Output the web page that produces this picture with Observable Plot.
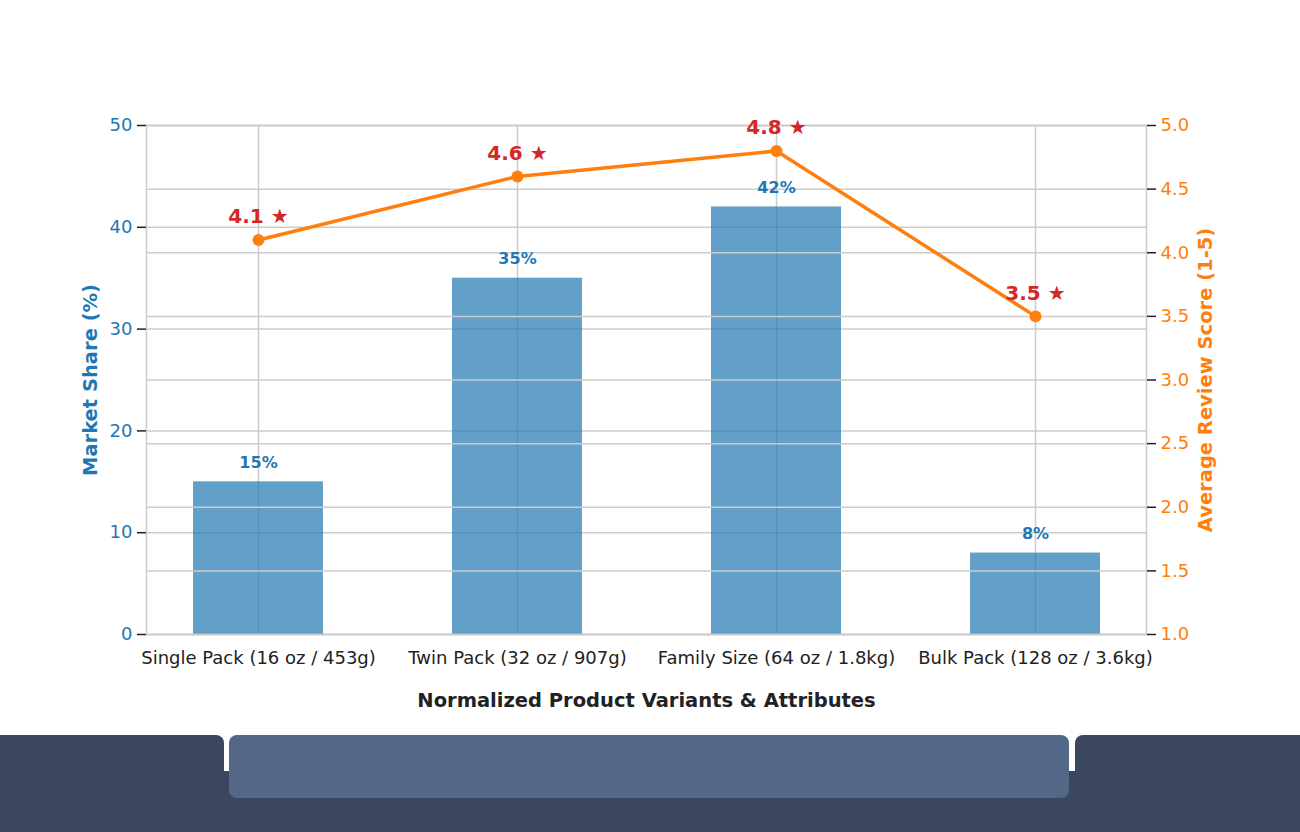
<!DOCTYPE html>
<html>
<head>
<meta charset="utf-8">
<script src="https://cdn.jsdelivr.net/npm/d3@7"></script>
<script src="https://cdn.jsdelivr.net/npm/@observablehq/plot@0.6"></script>
<style>
  html, body { margin: 0; padding: 0; background: #ffffff; width: 1300px; height: 832px; overflow: hidden; position: relative; font-family: "DejaVu Sans", sans-serif; }
  #chart { position: absolute; left: 0; top: 0; }
  .band { position: absolute; background: #3b475e; }
  .mid { position: absolute; background: #536887; border-radius: 8px; }
</style>
</head>
<body>
<div id="chart"></div>
<div class="band" style="left:0; top:771px; width:1300px; height:61px;"></div>
<div class="band" style="left:0; top:735px; width:224px; height:97px; border-top-right-radius:8px;"></div>
<div class="band" style="left:1075px; top:735px; width:225px; height:97px; border-top-left-radius:8px;"></div>
<div class="mid" style="left:229px; top:735px; width:840px; height:63px;"></div>
<script>
const categories = ["Single Pack (16 oz / 453g)", "Twin Pack (32 oz / 907g)", "Family Size (64 oz / 1.8kg)", "Bulk Pack (128 oz / 3.6kg)"];
const marketShare = [15, 35, 42, 8];
const reviewScore = [4.1, 4.6, 4.8, 3.5];
const shareTicks = [0, 10, 20, 30, 40, 50];
const scoreTicks = [1.0, 1.5, 2.0, 2.5, 3.0, 3.5, 4.0, 4.5, 5.0];
const scoreTickLabels = ["1.0", "1.5", "2.0", "2.5", "3.0", "3.5", "4.0", "4.5", "5.0"];
const xTitle = "Normalized Product Variants & Attributes";
const yLeftTitle = "Market Share (%)";
const yRightTitle = "Average Review Score (1-5)";

const BLUE = "#1f77b4", ORANGE = "#ff7f0e", RED = "#d62728", GRID = "#cccccc";
// map the right (score) axis domain [1,5] onto the left (share) axis domain [0,50]
const toLeft = s => (s - 1) / 4 * 50;

const data = categories.map((c, i) => ({cat: c, share: marketShare[i], score: reviewScore[i]}));

const chart = Plot.plot({
  width: 1300,
  height: 735,
  marginTop: 125,
  marginBottom: 101,
  marginLeft: 146,
  marginRight: 154,
  style: {fontFamily: "DejaVu Sans", fontSize: "18px", background: "transparent"},
  x: {domain: categories, type: "band", paddingInner: 0.5, paddingOuter: 0.175, align: 0.5},
  y: {domain: [0, 50]},
  marks: [
    Plot.gridX({stroke: GRID, strokeOpacity: 1, strokeWidth: 1.5}),
    Plot.gridY(shareTicks, {stroke: GRID, strokeOpacity: 1, strokeWidth: 1.5}),
    Plot.barY(data, {x: "cat", y: "share", fill: BLUE, fillOpacity: 0.7}),
    Plot.ruleY(scoreTicks, {y: d => toLeft(d), stroke: GRID, strokeWidth: 1.5}),
    Plot.frame({stroke: GRID, strokeWidth: 1.5}),
    Plot.axisY(shareTicks, {anchor: "left", tickSize: 9, tickPadding: 5, stroke: "#222", strokeWidth: 1.5, fill: BLUE, label: null, fontSize: 18}),
    Plot.axisY(scoreTicks.map(toLeft), {anchor: "right", tickSize: 9, tickPadding: 5, stroke: "#222", strokeWidth: 1.5, fill: ORANGE, label: null, fontSize: 18, tickFormat: (d, i) => scoreTickLabels[i]}),
    Plot.axisX({anchor: "bottom", tickSize: 0, tickPadding: 17, fill: "#222", label: null, fontSize: 18}),
    Plot.line(data, {x: "cat", y: d => toLeft(d.score), stroke: ORANGE, strokeWidth: 3.5}),
    Plot.dot(data, {x: "cat", y: d => toLeft(d.score), r: 6, fill: ORANGE}),
    Plot.text(data, {x: "cat", y: "share", text: d => d.share + "%", dy: -19, fill: BLUE, fontWeight: "bold", fontSize: 16}),
    Plot.text(data, {x: "cat", y: d => toLeft(d.score), text: d => `${d.score} ★`, dy: -23, fill: RED, fontWeight: "bold", fontSize: 20}),
    Plot.text([xTitle], {frameAnchor: "bottom", text: d => d, dy: 72, fill: "#222", fontWeight: "bold", fontSize: 19.5}),
    Plot.text([yLeftTitle], {frameAnchor: "left", textAnchor: "middle", text: d => d, dx: -56, rotate: -90, fill: BLUE, fontWeight: "bold", fontSize: 19.5}),
    Plot.text([yRightTitle], {frameAnchor: "right", textAnchor: "middle", text: d => d, dx: 59, rotate: -90, fill: ORANGE, fontWeight: "bold", fontSize: 19.5})
  ]
});
document.getElementById("chart").appendChild(chart);
</script>
</body>
</html>
